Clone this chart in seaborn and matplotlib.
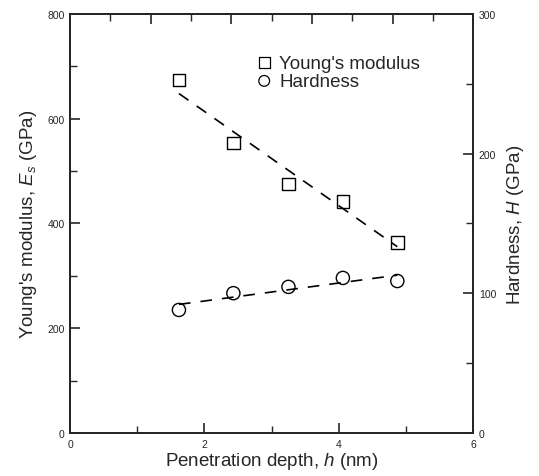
import numpy as np
import pandas as pd
import matplotlib
matplotlib.use('Agg')
import matplotlib.pyplot as plt
import seaborn as sns
from matplotlib.ticker import MultipleLocator, NullFormatter

# data
depth = [1.62, 2.43, 3.25, 4.06, 4.87]          # h (nm)
youngs = [674, 553, 475, 442, 364]               # E_s (GPa)
hardness = [88.1, 100.1, 104.6, 111.0, 108.8]    # H (GPa)

df = pd.DataFrame({'h': depth, 'E': youngs, 'H': hardness})

sns.set_style('ticks')
plt.rcParams['font.family'] = ['Liberation Sans', 'DejaVu Sans']
plt.rcParams['mathtext.fontset'] = 'custom'
plt.rcParams['mathtext.rm'] = 'Liberation Sans'
plt.rcParams['mathtext.it'] = 'Liberation Sans:italic'

fig = plt.figure(figsize=(5.39, 4.77), dpi=100)
ax = fig.add_axes([0.130, 0.090, 0.748, 0.879])
ax2 = ax.twinx()
ax3 = ax.twiny()   # unlabelled top scale, 10 divisions

dash = (0, (7, 6))
# Young's modulus
sns.regplot(data=df, x='h', y='E', ax=ax, ci=None, scatter=False, color='black',
            line_kws={'lw': 1.2, 'linestyle': dash})
sns.scatterplot(data=df, x='h', y='E', ax=ax, marker='s', s=80,
                facecolor='none', edgecolor='black', linewidth=1.0, zorder=3)
# hardness
sns.regplot(data=df, x='h', y='H', ax=ax2, ci=None, scatter=False, color='black',
            line_kws={'lw': 1.2, 'linestyle': dash})
sns.scatterplot(data=df, x='h', y='H', ax=ax2, marker='o', s=90,
                facecolor='none', edgecolor='black', linewidth=1.0, zorder=3)

ax.set_xlim(0, 6)
ax.set_ylim(0, 800)
ax2.set_ylim(0, 300)
ax3.set_xlim(0, 10)
ax.xaxis.set_major_locator(MultipleLocator(2))
ax.xaxis.set_minor_locator(MultipleLocator(1))
ax.yaxis.set_major_locator(MultipleLocator(200))
ax.yaxis.set_minor_locator(MultipleLocator(100))
ax2.yaxis.set_major_locator(MultipleLocator(100))
ax2.yaxis.set_minor_locator(MultipleLocator(50))
ax3.xaxis.set_major_locator(MultipleLocator(2))
ax3.xaxis.set_minor_locator(MultipleLocator(1))
ax3.xaxis.set_major_formatter(NullFormatter())

ax.tick_params(axis='x', which='both', direction='in', top=False, labelsize=7.5, pad=4)
ax.tick_params(axis='y', which='both', direction='in', right=False, labelsize=7.5, pad=4)
ax2.tick_params(axis='y', which='both', direction='in', labelsize=7.5, pad=4)
ax3.tick_params(axis='x', which='both', direction='in', labeltop=False)
for a in (ax, ax2, ax3):
    a.tick_params(which='major', length=7, width=1.2)
    a.tick_params(which='minor', length=5, width=1.0)
    for sp in a.spines.values():
        sp.set_linewidth(1.2)
        sp.set_visible(True)

ax.set_xlabel('Penetration depth, $\\mathit{h}$ (nm)', fontsize=13.5, labelpad=1)
ax.set_ylabel("Young's modulus, $\\mathit{E}_s$ (GPa)", fontsize=13.5, labelpad=6)
ax2.set_ylabel('Hardness, $\\mathit{H}$ (GPa)', fontsize=13.5, labelpad=6)

h1 = ax.scatter([], [], marker='s', s=60, facecolor='none', edgecolor='black', lw=0.9)
h2 = ax.scatter([], [], marker='o', s=60, facecolor='none', edgecolor='black', lw=0.9)
ax.legend([h1, h2], ["Young's modulus", 'Hardness'], loc='upper left',
          bbox_to_anchor=(0.435, 0.925), frameon=False, fontsize=13.5, borderpad=0,
          handletextpad=0.3, labelspacing=0.05, handlelength=1.0)

fig.savefig('out.png', dpi=100)
